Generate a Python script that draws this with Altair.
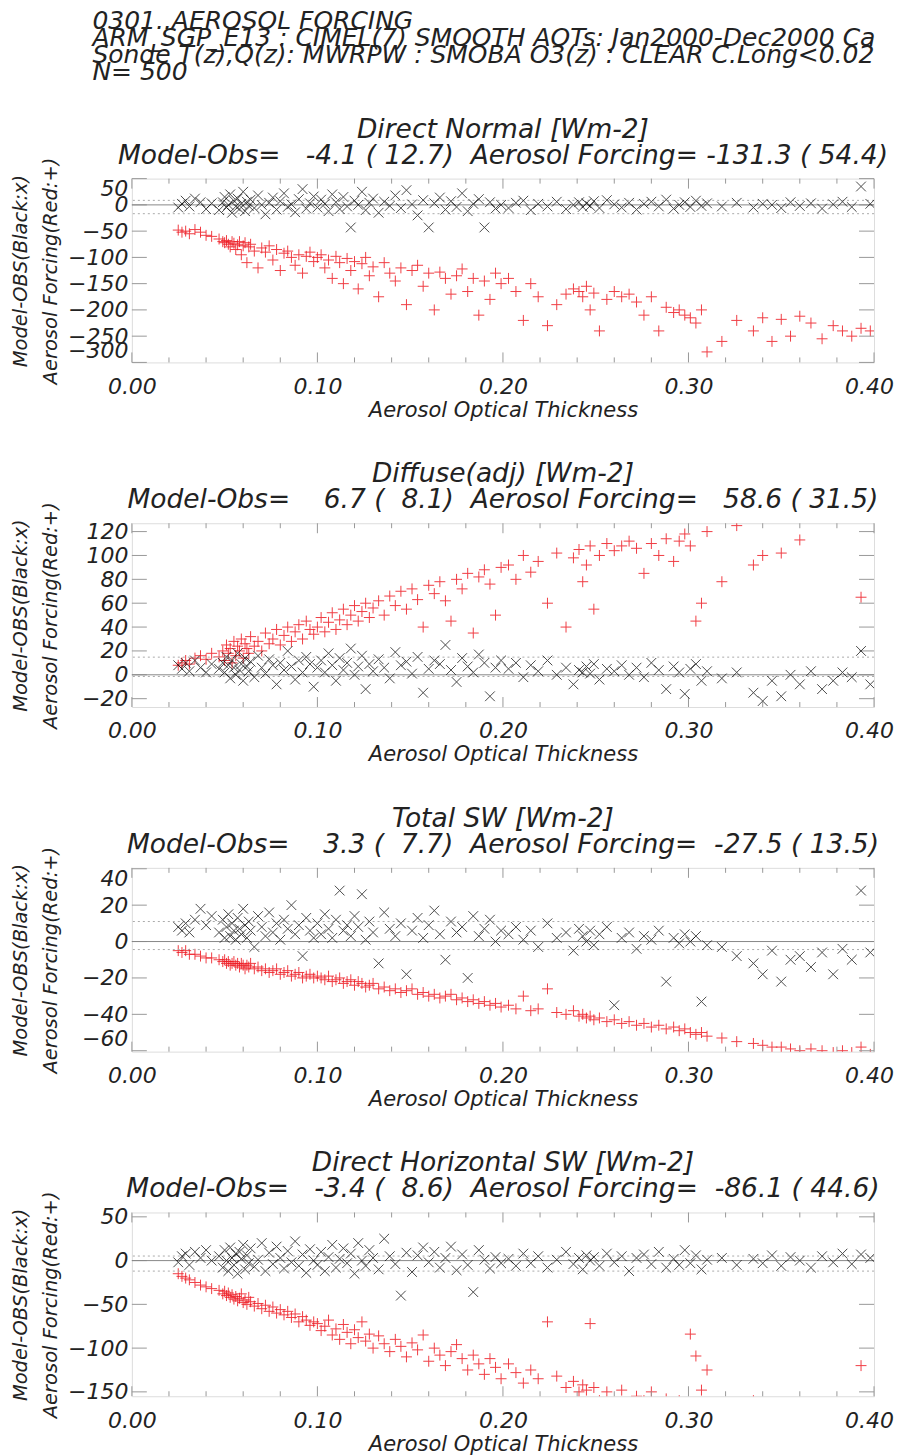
import altair as alt
import pandas as pd

# ---------------- data ----------------
AOT = [
    0.025, 0.027, 0.029, 0.031, 0.034, 0.037, 0.040, 0.043,
    0.047, 0.049, 0.050, 0.051, 0.052, 0.053, 0.054, 0.055, 0.056, 0.057, 0.058, 0.059, 0.060, 0.061,
    0.062, 0.063, 0.064, 0.066, 0.068, 0.070, 0.072, 0.074, 0.076, 0.078, 0.080, 0.082, 0.084, 0.086,
    0.088, 0.090, 0.092, 0.094, 0.096, 0.098,
    0.100, 0.102, 0.104, 0.106, 0.108, 0.110, 0.112, 0.114, 0.116, 0.118, 0.120, 0.122, 0.124, 0.126,
    0.128, 0.130, 0.133, 0.136, 0.139, 0.142, 0.145, 0.148, 0.151, 0.154, 0.157, 0.160, 0.163, 0.166,
    0.169, 0.172, 0.175, 0.178, 0.181, 0.184, 0.187, 0.190, 0.193, 0.196, 0.199,
    0.203, 0.207, 0.211, 0.215, 0.219, 0.224, 0.229, 0.234, 0.238, 0.241, 0.243, 0.245, 0.247, 0.249,
    0.252, 0.256, 0.260, 0.264, 0.268, 0.272, 0.276, 0.280, 0.284, 0.288, 0.292, 0.295, 0.298, 0.301,
    0.304, 0.307, 0.310,
    0.318, 0.326, 0.335, 0.340, 0.345, 0.350, 0.355, 0.360, 0.366, 0.372, 0.378, 0.383, 0.388, 0.393, 0.398,
]

# Direct Normal
DN_BLACK = [
    -5, 2, 8, -3, 12, 5, -8, 3,
    -10, 5, 15, -5, 0, 20, -15, 8, -3, 12, -8, 2, 25, -12, 6, -2, 10, -6, 18, 0, -18, 4, 14, -9, 7, 22,
    -4, 1, -14, 11, 30, -7, 3, 16,
    -5, 10, 2, -12, 20, 5, -8, 15, -3, -43, 8, 0, 25, -10, 4, 12, -15, 6, -2, 18, -6, 28, 1, -20, 9,
    -43, 3, 14, -9, 7, -4, 22, -12, 2, 11, -43, 5, -7, 0,
    -6, 4, 8, -10, 2, -3, 6, -8, 0, 5, -4, 3, -2, 7, -6, 9, 1, -5, 4, -9, 2, 6, -3, 10, -7, 0, 5, -4,
    8, -2, 3,
    -3, 4, -5, 2, 0, -6, 5, -2, 3, -7, 1, 6, -4, 35, 2,
]
DN_RED = [
    -48, -52, -50, -55, -47, -52, -58, -60,
    -65, -70, -72, -68, -75, -80, -70, -73, -85, -76, -70, -95, -78, -72, -110, -80, -75, -88, -120,
    -82, -90, -78, -105, -85, -125, -92, -88, -100, -115, -95, -130, -98, -90, -108,
    -100, -95, -120, -105, -140, -98, -110, -150, -102, -125, -108, -160, -112, -100, -135, -118, -175,
    -110, -130, -145, -120, -190, -125, -115, -155, -130, -200, -128, -140, -170, -135, -122, -165,
    -140, -210, -145, -180, -130, -150,
    -140, -165, -220, -150, -175, -230, -190, -170, -160, -165, -175, -155, -200, -168, -240, -180,
    -165, -175, -170, -185, -210, -175, -240, -195, -205, -200, -210, -215, -225, -200, -280,
    -260, -220, -240, -215, -260, -218, -250, -212, -225, -255, -230, -240, -250, -235, -240,
]

# Diffuse (adj)
DF_BLACK = [
    8, 5, 10, 3, 12, 6, 2, 9,
    5, 10, 2, 15, 8, -3, 12, 6, 0, 18, 4, 9, -5, 14, 7, 3, 11, -2, 16, 6, 1, 13, 8, -8, 10, 4, 20, 7,
    -4, 12, 2, 15, 9, -10,
    6, 12, 2, 18, 8, -5, 14, 4, 10, 22, 0, 7, 16, -12, 9, 3, 13, 6, -3, 19, 8, 11, 1, 15, -15, 5, 12,
    9, 25, 4, -6, 14, 7, 2, 17, 10, -18, 6, 12,
    5, 10, -2, 8, 3, 12, 0, 6, -8, 4, 2, 7, 1, 9, -4, 5, 3, 8, 0, 6, -2, 10, 4, -12, 7, 2, -16, 5, 9,
    -5, 3,
    -3, 2, -15, -22, -5, -18, 0, -8, 3, -12, -5, 2, -2, 20, -8,
]
DF_RED = [
    8, 10, 12, 9, 14, 16, 13, 18,
    15, 20, 12, 25, 18, 22, 10, 28, 16, 24, 20, 30, 14, 26, 22, 18, 32, 24, 28, 20, 35, 26, 30, 38, 25,
    33, 40, 28, 36, 42, 30, 45, 38, 34,
    40, 48, 36, 44, 52, 38, 46, 55, 42, 50, 58, 45, 53, 60, 48, 56, 62, 50, 66, 58, 70, 55, 72, 63, 40,
    75, 68, 78, 62, 45, 80, 72, 85, 35, 82, 88, 76, 50, 90,
    92, 80, 100, 86, 95, 60, 102, 40, 98, 105, 78, 92, 108, 55, 100, 110, 104, 108, 112, 106, 85, 110,
    100, 114, 95, 112, 118, 108, 45, 60, 120,
    78, 125, 92, 100, 135, 102, 140, 113, 132, 145, 138, 150, 142, 65, 148,
]

# Total SW
TOT_BLACK = [
    8, 6, 10, 5, 12, 18, 9, 14,
    5, 12, 2, 8, 15, 3, 10, 6, 1, 13, 7, 4, 18, 9, 2, 11, 6, -3, 14, 8, 3, 16, 5, 10, 1, 12, 7, 20, 4,
    9, -8, 13, 6, 2,
    10, 4, 15, 7, 2, 12, 28, 6, 9, 3, 14, 8, 26, 1, 11, 5, -12, 16, 7, 3, 10, -18, 6, 13, 2, 9, 17, 4,
    -10, 11, 5, 8, -20, 14, 3, 7, 12, 0, 6,
    4, 8, 1, 6, -3, 10, 2, 5, -5, 7, 3, 0, 6, -2, 4, 8, -35, 2, 5, -4, 3, 1, 6, -22, 2, -1, 4, 0, 3,
    -33, -2,
    -3, -8, -12, -18, -5, -22, -10, -8, -14, -6, -18, -4, -10, 28, -6,
]
TOT_RED = [
    -5, -6, -5, -7, -7, -8, -9, -9,
    -10, -11, -10, -12, -11, -13, -12, -11, -13, -12, -14, -12, -13, -15, -13, -14, -12, -15, -14, -16,
    -15, -17, -16, -15, -18, -17, -16, -19, -18, -17, -20, -19, -18, -20,
    -19, -20, -21, -19, -22, -21, -20, -23, -22, -21, -24, -22, -23, -25, -24, -23, -26, -25, -27, -26,
    -28, -27, -26, -29, -28, -30, -29, -31, -30, -29, -32, -31, -33, -32, -34, -33, -35, -34, -36,
    -35, -37, -30, -38, -37, -26, -39, -40, -38, -41, -40, -42, -41, -43, -42, -44, -43, -45, -44, -46,
    -45, -47, -46, -48, -47, -49, -48, -50, -51, -50, -52,
    -53, -55, -56, -57, -58, -58, -59, -60, -59, -60, -61, -60, -61, -58, -62,
]

# Direct Horizontal SW
DH_BLACK = [
    -2, 5, 8, -5, 10, 3, 12, 0,
    5, -8, 12, 0, -12, 15, 3, -5, 8, -15, 10, 2, 18, -10, 6, -3, 14, -7, 1, 20, -12, 9, -4, 16, 3, -9,
    11, -2, 22, -6, 7, -14, 13, 0,
    -5, 10, -12, 4, 18, -8, 2, 14, -3, 8, -15, 20, 0, -6, 12, 3, -10, 25, 5, -4, -40, 9, -13, 6, 15,
    -2, 10, -8, 3, 16, -11, 7, -5, -36, 12, 1, -9, 4, -3,
    2, -6, 8, -3, 5, -8, 1, 10, -4, 3, -10, 6, 0, 4, -6, 8, -2, 5, -12, 3, 7, -4, 10, -8, 2, -5, 12,
    -3, 6, -10, 1,
    3, -5, 2, -3, 6, -6, 4, 0, -8, 5, -2, 8, -4, 7, 3,
]
DH_RED = [
    -15, -18, -20, -22, -25, -28, -30, -32,
    -34, -38, -35, -40, -37, -42, -39, -44, -41, -46, -43, -38, -48, -45, -50, -42, -47, -52, -49, -55,
    -51, -58, -53, -60, -56, -62, -58, -65, -61, -70, -64, -68, -74, -70,
    -72, -80, -75, -68, -85, -78, -90, -73, -82, -95, -79, -88, -70, -92, -84, -100, -86, -95, -104,
    -90, -98, -110, -94, -102, -85, -115, -100, -108, -120, -104, -96, -112, -125, -108, -118, -130,
    -112, -122, -135,
    -118, -128, -140, -125, -135, -70, -132, -145, -138, -150, -142, -148, -72, -145, -160, -150, -165,
    -148, -170, -155, -160, -150, -165, -158, -170, -160, -175, -84, -109, -148, -125,
    -165, -170, -160, -175, -168, -172, -165, -180, -170, -175, -168, -178, -172, -120, -180,
]

PANEL_NAMES = ["Direct Normal [Wm-2]", "Diffuse(adj) [Wm-2]", "Total SW [Wm-2]",
               "Direct Horizontal SW [Wm-2]"]
STAT_LINES = [
    "Model-Obs=   -4.1 ( 12.7)  Aerosol Forcing= -131.3 ( 54.4)",
    "Model-Obs=    6.7 (  8.1)  Aerosol Forcing=   58.6 ( 31.5)",
    "Model-Obs=    3.3 (  7.7)  Aerosol Forcing=  -27.5 ( 13.5)",
    "Model-Obs=   -3.4 (  8.6)  Aerosol Forcing=  -86.1 ( 44.6)",
]
MO_MEAN = [-4.1, 6.7, 3.3, -3.4]
MO_SD = [12.7, 8.1, 7.7, 8.6]
BLACKS = [DN_BLACK, DF_BLACK, TOT_BLACK, DH_BLACK]
REDS = [DN_RED, DF_RED, TOT_RED, DH_RED]
Y_DOMAINS = [[-300, 50], [-27, 127], [-60.5, 40.5], [-155, 55]]
Y_TICKS = [
    [50, 0, -50, -100, -150, -200, -250, -300],
    [120, 100, 80, 60, 40, 20, 0, -20],
    [40, 20, 0, -20, -40, -60],
    [50, 0, -50, -100, -150],
]
X_TICKS = [0.0, 0.1, 0.2, 0.3, 0.4]
X_MINOR = [0.02, 0.04, 0.06, 0.08, 0.12, 0.14, 0.16, 0.18, 0.22, 0.24, 0.26, 0.28,
           0.32, 0.34, 0.36, 0.38]

HEADER = [
    "0301..AEROSOL FORCING",
    " ARM_SGP_E13 : CIMEL(7) SMOOTH AOTs: Jan2000-Dec2000 Ca",
    " Sonde T(z),Q(z): MWRPW : SMOBA O3(z) : CLEAR C.Long<0.02",
    " N= 500",
]
Y_TITLE = ["Model-OBS(Black:x)", "Aerosol Forcing(Red:+)"]
X_TITLE = "Aerosol Optical Thickness"

# ---------------- styling ----------------
FONT = "DejaVu Sans"
TXT = "#222222"
FRAME = "#999999"
RED = "#ee1c24"
W, H = 743, 184
PLUS = "M-1,0L1,0M0,-1L0,1"
CROSS = "M-1,-1L1,1M-1,1L1,-1"


def nb(s):
    return s.replace(" ", "\u00a0")


def panel(i):
    xs = alt.Scale(domain=[0, 0.4], nice=False, zero=False)
    ys = alt.Scale(domain=Y_DOMAINS[i], nice=False, zero=False)
    xaxis = alt.Axis(values=X_TICKS, format=".2f", labelFlush=False, ticks=False, tickSize=0,
                     domain=False, grid=False, labelFont=FONT, labelFontStyle="italic",
                     labelFontSize=22, labelColor=TXT, labelPadding=14,
                     labelOffset={"condition": {"test": "datum.value > 0.39", "value": -5},
                                  "value": 0},
                     title=X_TITLE, titleFont=FONT, titleFontStyle="italic",
                     titleFontWeight="normal", titleFontSize=21, titleColor=TXT, titlePadding=2)
    yaxis = alt.Axis(values=Y_TICKS[i], labelFlush=True, labelOverlap=False, ticks=False,
                     tickSize=0, domain=False, grid=False, labelFont=FONT,
                     labelFontStyle="italic", labelFontSize=22, labelColor=TXT, labelPadding=4,
                     title=Y_TITLE, titleFont=FONT, titleFontStyle="italic",
                     titleFontWeight="normal", titleFontSize=19.5, titleColor=TXT,
                     titleLineHeight=30, titleX=-101, titleBaseline="bottom")

    X = alt.X("aot:Q", scale=xs, axis=xaxis)
    Y = alt.Y("v:Q", scale=ys, axis=yaxis)
    XT = alt.X("t:Q", scale=xs, axis=xaxis)
    YT = alt.Y("t:Q", scale=ys, axis=yaxis)

    df_b = pd.DataFrame({"aot": AOT, "v": BLACKS[i]})
    df_r = pd.DataFrame({"aot": AOT, "v": REDS[i]})
    xt = pd.DataFrame({"t": X_TICKS})
    xm = pd.DataFrame({"t": X_MINOR})
    yt = pd.DataFrame({"t": Y_TICKS[i]})
    zero = pd.DataFrame({"v": [0]})
    sd = pd.DataFrame({"v": [MO_MEAN[i] + MO_SD[i], MO_MEAN[i] - MO_SD[i]]})

    def xrule(df, y1, y2):
        return alt.Chart(df).mark_rule(color=FRAME, strokeWidth=1).encode(
            x=XT, y=alt.value(y1), y2=alt.value(y2))

    def yrule(x1, x2):
        return alt.Chart(yt).mark_rule(color=FRAME, strokeWidth=1).encode(
            y=YT, x=alt.value(x1), x2=alt.value(x2))

    red = alt.Chart(df_r).mark_point(shape=PLUS, size=120, filled=False, color=RED,
                                     strokeWidth=1, opacity=0.85, clip=True).encode(x=X, y=Y)
    black = alt.Chart(df_b).mark_point(shape=CROSS, size=95, filled=False, color="black",
                                       strokeWidth=1, opacity=0.7, clip=True).encode(x=X, y=Y)
    zl = alt.Chart(zero).mark_rule(color="#888888", strokeWidth=1).encode(y=Y)
    sl = alt.Chart(sd).mark_rule(color="#aaaaaa", strokeWidth=1, strokeDash=[2, 3]).encode(y=Y)

    layers = [
        red,
        xrule(xt, H, H - 10), xrule(xt, 0, 10), xrule(xm, H, H - 5), xrule(xm, 0, 5),
        yrule(0, 15), yrule(W - 15, W),
        zl, sl, black,
    ]
    return alt.layer(*layers).properties(
        width=W, height=H,
        title=alt.TitleParams(text=[PANEL_NAMES[i], nb(STAT_LINES[i])], font=FONT,
                              fontStyle="italic", fontWeight="normal", fontSize=26.5,
                              lineHeight=26, color=TXT, anchor="middle", frame="group",
                              offset=-12))


chart = alt.vconcat(*[panel(i) for i in range(4)], spacing=39).properties(
    title=alt.TitleParams(text=[nb(s) for s in HEADER], anchor="start", font=FONT,
                          fontSize=25, fontStyle="italic", fontWeight="normal", color=TXT,
                          lineHeight=17, dx=82, offset=31),
    padding={"left": 2, "top": 0, "right": 0, "bottom": 0},
).configure_view(stroke=FRAME, strokeWidth=1).configure(background="white")

chart.save("out.html", embed_options={"renderer": "svg", "actions": False})
